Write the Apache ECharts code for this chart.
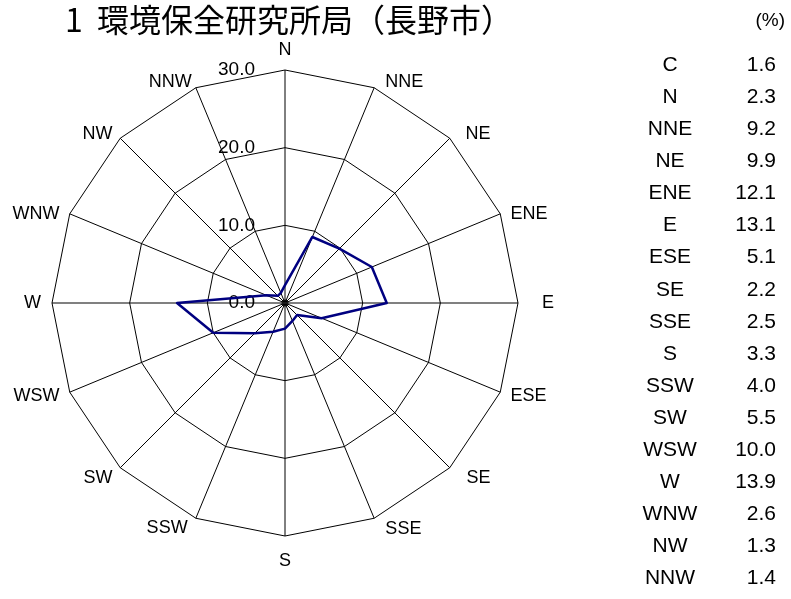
<!DOCTYPE html>
<html><head><meta charset="utf-8">
<script src="https://cdn.jsdelivr.net/npm/echarts@6/dist/echarts.min.js"></script>
<style>html,body{margin:0;padding:0;background:#fff}#c{width:791px;height:599px}</style>
</head><body><div id="c"></div>
<script>
const directions = ['N','NNE','NE','ENE','E','ESE','SE','SSE','S','SSW','SW','WSW','W','WNW','NW','NNW'];
const frequencies = [2.3,9.2,9.9,12.1,13.1,5.1,2.2,2.5,3.3,4.0,5.5,10.0,13.9,2.6,1.3,1.4];
const calmLabel = 'C';
const calmValue = 1.6;
const radialMax = 30;
const radialStep = 10;
const titleText = '1  環境保全研究所局（長野市）';
const unitText = '(%)';

// radar indicators run counter-clockwise; reorder so directions go clockwise from N
const order = [0].concat(directions.slice(1).map((d, i) => directions.length - 1 - i));
const axisFont = 'Liberation Sans';

// small label nudges (style only): [dx, dy] in px
const nameNudge = {
  NNE: [7, 4], NE: [8, 4], ENE: [0, 4], E: [13, 0], SE: [9, 2], SSE: [7, 1],
  S: [0, 5], SSW: [-4, 0], SW: [0, 2], WNW: [0, 4], NW: [0, 4], NNW: [0, 4]
};
const nameRich = {};
directions.forEach((d, k) => {
  const ang = Math.PI / 2 - k * Math.PI * 2 / directions.length;
  const cx = Math.cos(ang), cy = Math.sin(ang);
  const nd = nameNudge[d] || [0, 0];
  let pl = 0, pr = 0, pt = 0, pb = 0;
  const vertical = Math.abs(cx) < 1e-6;
  if (!vertical) {
    if (cx > 0) pl = Math.max(nd[0], 0); else pr = Math.max(-nd[0], 0);
    pt = Math.max(nd[1], 0) * 2;
  } else if (cy < 0) {
    pt = Math.max(nd[1], 0);
  }
  nameRich['d' + k] = { padding: [pt, pr, pb, pl], color: '#000', fontSize: 18, fontFamily: axisFont };
});

const indicators = order.map((k, j) => {
  const o = { name: directions[k], min: 0, max: radialMax };
  if (j === 0) {
    o.axisLabel = {
      show: true, color: '#000', fontSize: 19, fontFamily: axisFont, margin: 30,
      formatter: v => Number(v).toFixed(1)
    };
  }
  return o;
});
const radarValues = order.map(k => frequencies[k]);

const tableNames = [calmLabel].concat(directions);
const tableVals = [calmValue].concat(frequencies);
const tableText = tableNames.map((n, i) => '{a|' + n + '}{b|' + tableVals[i].toFixed(1) + '}').join('\n');

const hiddenRadius = { min: 0, max: radialMax, axisLine: { show: false }, axisTick: { show: false },
  axisLabel: { show: false }, splitLine: { show: false } };

const chart = echarts.init(document.getElementById('c'));
chart.setOption({
  animation: false,
  backgroundColor: '#fff',
  title: [
    { text: titleText, left: 65, top: 4, padding: 0,
      textStyle: { fontSize: 32, fontWeight: 'normal', fontFamily: 'Noto Sans CJK JP', color: '#000' } },
    { text: unitText, right: 6, top: 11, padding: 0,
      textStyle: { fontSize: 19, fontWeight: 'normal', fontFamily: axisFont, color: '#000' } },
    { text: tableText, left: 635, top: 49, padding: 0,
      textStyle: { fontSize: 21, lineHeight: 32.1, fontWeight: 'normal', color: '#000',
        rich: {
          a: { width: 70, align: 'center', fontSize: 21, lineHeight: 32.1, fontFamily: axisFont, color: '#000' },
          b: { width: 71, align: 'right', fontSize: 21, lineHeight: 32.1, fontFamily: axisFont, color: '#000' }
        } } }
  ],
  radar: {
    center: [285, 303],
    radius: 233,
    startAngle: 90,
    shape: 'polygon',
    z: 4,
    splitNumber: radialMax / radialStep,
    indicator: indicators,
    nameGap: 11,
    axisName: {
      color: '#000', fontSize: 18, fontFamily: axisFont,
      formatter: name => '{d' + directions.indexOf(name) + '|' + name + '}',
      rich: nameRich
    },
    axisLine: { show: false },
    splitLine: { show: true, lineStyle: { color: '#000', width: 1 } },
    splitArea: { show: false },
    axisTick: { show: false },
    axisLabel: { show: false }
  },
  polar: [
    { center: [285, 303], radius: 233 },
    { center: [285, 303], radius: 233 }
  ],
  angleAxis: [
    {
      polarIndex: 0, type: 'value', min: 0, max: 360, interval: 360 / directions.length, startAngle: 90, z: 1,
      axisLine: { show: false }, axisTick: { show: false }, axisLabel: { show: false },
      splitLine: { show: true, lineStyle: { color: '#000', width: 1 } }
    },
    {
      polarIndex: 1, type: 'value', min: 0, max: 360, interval: 180, startAngle: 0, z: 2,
      axisLine: { show: false }, axisTick: { show: false }, axisLabel: { show: false },
      splitLine: { show: true, lineStyle: { color: '#808080', width: 2 } }
    }
  ],
  radiusAxis: [
    Object.assign({ polarIndex: 0 }, hiddenRadius),
    Object.assign({ polarIndex: 1 }, hiddenRadius)
  ],
  series: [
    {
      type: 'radar', z: 6,
      symbol: 'none',
      lineStyle: { color: '#000080', width: 2.5 },
      data: [{ value: radarValues }]
    },
    {
      type: 'scatter', coordinateSystem: 'polar', polarIndex: 0, z: 7,
      symbolSize: 7, itemStyle: { color: '#000' },
      data: [[0, 0]]
    }
  ]
});
</script></body></html>
